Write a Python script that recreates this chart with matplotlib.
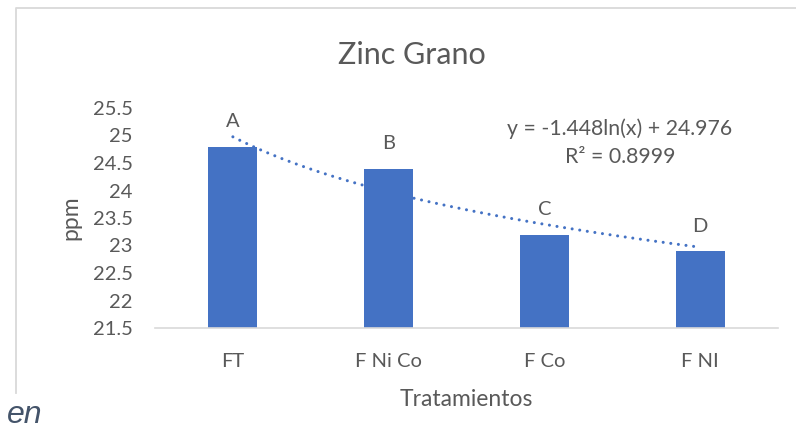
import numpy as np
import matplotlib

matplotlib.use('Agg')
import matplotlib.pyplot as plt
from matplotlib.lines import Line2D
from matplotlib.ticker import MultipleLocator, FormatStrFormatter

# Zinc content in grain per treatment
treatments = ['FT', 'F Ni Co', 'F Co', 'F NI']
zinc_ppm = [24.8, 24.4, 23.2, 22.9]
groups = ['A', 'B', 'C', 'D']

# Logarithmic trendline coefficients and fit quality
trend_a = -1.448
trend_b = 24.976
trend_r2 = 0.8999

BLUE = '#4472C4'
TEXT = '#595959'
LINE = '#D9D9D9'
FONT = 'Lato'

W, H = 796, 442

plt.rcParams['font.family'] = [FONT, 'DejaVu Sans']

fig = plt.figure(figsize=(W / 100, H / 100), dpi=100)
fig.patch.set_facecolor('white')


def fx(px):
    return px / W


def fy(py):
    return 1 - py / H


# Chart area border: left and top edges only, the rest is cut off
fig.add_artist(Line2D([fx(16), fx(16), 1.0], [fy(393), fy(8), fy(8)],
                      transform=fig.transFigure, color=LINE, linewidth=1.3))

ax = fig.add_axes([fx(155), fy(328), (778 - 155) / W, (328 - 108) / H])
x = np.arange(len(treatments))
ax.bar(x, zinc_ppm, width=0.315, color=BLUE, zorder=2)

# Group letters above each bar
for xi, val, g in zip(x, zinc_ppm, groups):
    ax.annotate(g, (xi, val), xytext=(0, 18), textcoords='offset points',
                ha='center', va='center', fontsize=14.5, color=TEXT)

# Trendline y = a*ln(x) + b over category positions 1..n
xt = np.linspace(1, len(treatments), 200)
ax.plot(xt - 1, trend_a * np.log(xt) + trend_b, color=BLUE, linewidth=2.2,
        linestyle=(0, (0.01, 2.5)), dash_capstyle='round', zorder=3)

sign = '+' if trend_b >= 0 else '-'
fig.text(fx(620), fy(129), 'y = {:.3f}ln(x) {} {:.3f}'.format(trend_a, sign, abs(trend_b)),
         ha='center', va='center', fontsize=15.3, color=TEXT)
fig.text(fx(620), fy(157), 'R² = {:.4f}'.format(trend_r2),
         ha='center', va='center', fontsize=15.3, color=TEXT)

ax.set_xlim(-0.5, len(treatments) - 0.5)
ax.set_ylim(21.5, 25.5)
ax.yaxis.set_major_locator(MultipleLocator(0.5))
ax.yaxis.set_major_formatter(FormatStrFormatter('%g'))
ax.set_xticks(x)
ax.set_xticklabels(treatments)

for side in ['top', 'right', 'left']:
    ax.spines[side].set_visible(False)
ax.spines['bottom'].set_color(LINE)
ax.spines['bottom'].set_linewidth(1.2)
ax.tick_params(axis='both', length=0, labelsize=14.5, colors=TEXT)
ax.tick_params(axis='y', pad=16)
ax.tick_params(axis='x', pad=18)

ax.set_ylabel('ppm', fontsize=16.5, color=TEXT, labelpad=8)
ax.set_xlabel('Tratamientos', fontsize=16.5, color=TEXT, labelpad=14)

fig.text(fx(412), fy(55), 'Zinc Grano', ha='center', va='center',
         fontsize=22, color=TEXT)

# Caption fragment below the chart box
fig.text(fx(7), fy(415), 'en', ha='left', va='center', fontsize=23,
         style='italic', color='#44546A', family=['Liberation Sans', 'DejaVu Sans'])

fig.savefig('out.png', dpi=100)
